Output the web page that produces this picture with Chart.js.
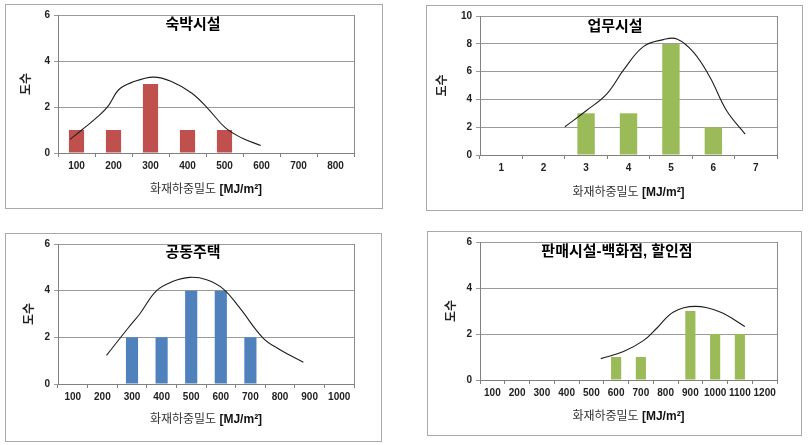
<!DOCTYPE html>
<html>
<head>
<meta charset="utf-8">
<script src="https://cdn.jsdelivr.net/npm/chart.js@4.4.1/dist/chart.umd.min.js"></script>
<style>
    body { margin: 0; background: #fff; width: 811px; height: 445px; position: relative; overflow: hidden; }
    .box { position: absolute; border: 1px solid #a9a9a9; box-sizing: border-box; }
    canvas { position: absolute; }
</style>
</head>
<body>
<div class="box" style="left:5px;top:4px;width:378px;height:205px"></div>
<div class="box" style="left:426px;top:5px;width:377px;height:206px"></div>
<div class="box" style="left:5px;top:233px;width:377px;height:209px"></div>
<div class="box" style="left:427px;top:231px;width:375px;height:205px"></div>
<canvas id="lodging"></canvas>
<canvas id="office"></canvas>
<canvas id="apartment"></canvas>
<canvas id="retail"></canvas>
<script>
// --- Data ---

const lodgingLabels = ['100', '200', '300', '400', '500', '600', '700', '800'];
const lodgingCounts = [1, 1, 3, 1, 1, 0, 0, 0];
const lodgingCurveX = [83, 114, 159, 186, 214, 250, 308, 358, 412, 457, 502, 547, 598];
const lodgingCurveY = [0.6, 1.0, 1.6, 2.05, 2.75, 3.07, 3.3, 3.1, 2.6, 1.9, 1.1, 0.65, 0.33];

const officeLabels = ['1', '2', '3', '4', '5', '6', '7'];
const officeCounts = [0, 0, 3, 3, 8, 2, 0];
const officeCurveX = [2.5, 3.01, 3.49, 3.88, 4.35, 4.82, 5.14, 5.53, 5.92, 6.31, 6.75];
const officeCurveY = [2.03, 3.2, 4.4, 6.1, 7.8, 8.3, 8.35, 7.4, 5.6, 3.2, 1.5];

const aptLabels = ['100', '200', '300', '400', '500', '600', '700', '800', '900', '1000'];
const aptCounts = [0, 0, 2, 2, 4, 4, 2, 0, 0, 0];
const aptCurveX = [214, 287, 326, 383, 439, 495, 552, 608, 664, 743, 800, 879];
const aptCurveY = [1.23, 2.4, 3.0, 4.0, 4.4, 4.57, 4.47, 4.08, 3.26, 1.97, 1.47, 0.93];

const retailLabels = ['100', '200', '300', '400', '500', '600', '700', '800', '900', '1000', '1100', '1200'];
const retailCounts = [0, 0, 0, 0, 0, 1, 1, 0, 3, 2, 2, 0];
const retailCurveX = [538, 630, 710, 765, 832, 920, 1020, 1120];
const retailCurveY = [0.93, 1.24, 1.71, 2.26, 2.96, 3.2, 2.96, 2.33];

const yTitle = '도수';
const xTitleMain = '화재하중밀도 ';
const xTitleUnit = '[MJ/m²]';

// --- Drawing ---

const FONT = "'Liberation Sans', 'Noto Sans CJK KR', sans-serif";

const panelDecor = {
    id: 'panelDecor',
    beforeDatasetsDraw(chart) {
        const { ctx, chartArea: a } = chart;
        ctx.save();
        ctx.strokeStyle = '#8c8c8c';
        ctx.lineWidth = 1;
        ctx.beginPath();
        ctx.moveTo(a.right + 0.5, a.top);
        ctx.lineTo(a.right + 0.5, a.bottom);
        ctx.stroke();
        ctx.restore();
    },
    afterDraw(chart, args, opts) {
        const { ctx, chartArea: a } = chart;
        ctx.save();
        ctx.font = 'bold 15px ' + FONT;
        ctx.fillStyle = '#000';
        ctx.textAlign = 'center';
        ctx.textBaseline = 'middle';
        ctx.fillText(opts.text, opts.x, opts.y);

        // x axis title: plain name + bold unit
        const plain = '12px ' + FONT, bold = 'bold 12px ' + FONT;
        ctx.font = plain;
        const w1 = ctx.measureText(xTitleMain).width;
        ctx.font = bold;
        const w2 = ctx.measureText(xTitleUnit).width;
        let x0 = (a.left + a.right) / 2 - (w1 + w2) / 2;
        ctx.textAlign = 'left';
        ctx.fillStyle = '#333';
        ctx.font = plain;
        ctx.fillText(xTitleMain, x0, opts.xTitleY);
        ctx.fillStyle = '#111';
        ctx.font = bold;
        ctx.fillText(xTitleUnit, x0 + w1, opts.xTitleY);
        ctx.restore();
    }
};

function drawPanel(id, box, plot, info) {
    const el = document.getElementById(id);
    el.width = box.w;
    el.height = box.h;
    el.style.left = box.x + 'px';
    el.style.top = box.y + 'px';

    const n = info.labels.length;
    const curve = info.curveX.map((x, i) => ({ x: x, y: info.curveY[i] }));
    const lh = 12 * 1.2;

    new Chart(el, {
        type: 'bar',
        data: {
            labels: info.labels,
            datasets: [{
                type: 'line',
                data: curve,
                xAxisID: 'xc',
                yAxisID: 'y',
                borderColor: '#1e1e1e',
                borderWidth: 1.1,
                pointRadius: 0,
                tension: 0.4,
                fill: false
            }, {
                data: info.counts,
                xAxisID: 'x',
                yAxisID: 'y',
                backgroundColor: info.color,
                grouped: false,
                categoryPercentage: 1,
                barPercentage: 0.41
            }]
        },
        options: {
            responsive: false,
            animation: false,
            layout: {
                padding: {
                    left: 0,
                    top: plot.top - box.y,
                    right: box.x + box.w - plot.right,
                    bottom: 0
                }
            },
            plugins: {
                legend: { display: false },
                tooltip: { enabled: false },
                panelDecor: {
                    text: info.title,
                    x: info.titleX - box.x,
                    y: info.titleY - box.y,
                    xTitleY: info.xTitleY - box.y
                }
            },
            scales: {
                x: {
                    type: 'category',
                    afterFit: s => { s.height = box.y + box.h - plot.bottom; },
                    grid: { offset: true, drawOnChartArea: false, tickLength: 4, color: '#808080' },
                    border: { color: '#808080' },
                    ticks: { padding: 3, color: '#222', font: { family: FONT, size: 10, weight: 'bold' }, maxRotation: 0, autoSkip: false }
                },
                xc: {
                    type: 'linear',
                    display: false,
                    offset: false,
                    min: info.step * 0.5,
                    max: info.step * (n + 0.5)
                },
                y: {
                    min: 0,
                    max: info.yMax,
                    afterFit: s => { s.width = plot.left - box.x; },
                    grid: { color: '#9a9a9a', tickLength: 4 },
                    border: { color: '#808080' },
                    ticks: { stepSize: 2, padding: 4, color: '#222', font: { family: FONT, size: 10, weight: 'bold' } },
                    title: {
                        display: true,
                        text: yTitle,
                        color: '#222',
                        font: { family: FONT, size: 12, weight: 'bold' },
                        padding: { top: info.yTitleX - box.x - lh / 2, bottom: 0 }
                    }
                }
            }
        },
        plugins: [panelDecor]
    });
}

drawPanel('lodging',
    { x: 5, y: 4, w: 378, h: 205 },
    { left: 58, top: 15, right: 354, bottom: 153 },
    { labels: lodgingLabels, counts: lodgingCounts, curveX: lodgingCurveX, curveY: lodgingCurveY,
      step: 100, yMax: 6, color: '#c0504d', title: '숙박시설',
      titleX: 193, titleY: 25, yTitleX: 27, xTitleY: 190 });

drawPanel('office',
    { x: 426, y: 5, w: 377, h: 206 },
    { left: 480, top: 16, right: 777, bottom: 155 },
    { labels: officeLabels, counts: officeCounts, curveX: officeCurveX, curveY: officeCurveY,
      step: 1, yMax: 10, color: '#9bbb59', title: '업무시설',
      titleX: 615, titleY: 27, yTitleX: 443, xTitleY: 193 });

drawPanel('apartment',
    { x: 5, y: 233, w: 377, h: 209 },
    { left: 58, top: 244, right: 354, bottom: 384 },
    { labels: aptLabels, counts: aptCounts, curveX: aptCurveX, curveY: aptCurveY,
      step: 100, yMax: 6, color: '#4f81bd', title: '공동주택',
      titleX: 193, titleY: 253, yTitleX: 30, xTitleY: 420 });

drawPanel('retail',
    { x: 427, y: 231, w: 375, h: 205 },
    { left: 480, top: 242, right: 777, bottom: 380 },
    { labels: retailLabels, counts: retailCounts, curveX: retailCurveX, curveY: retailCurveY,
      step: 100, yMax: 6, color: '#9bbb59', title: '판매시설-백화점, 할인점',
      titleX: 617, titleY: 252, yTitleX: 452, xTitleY: 417 });
</script>
</body>
</html>
